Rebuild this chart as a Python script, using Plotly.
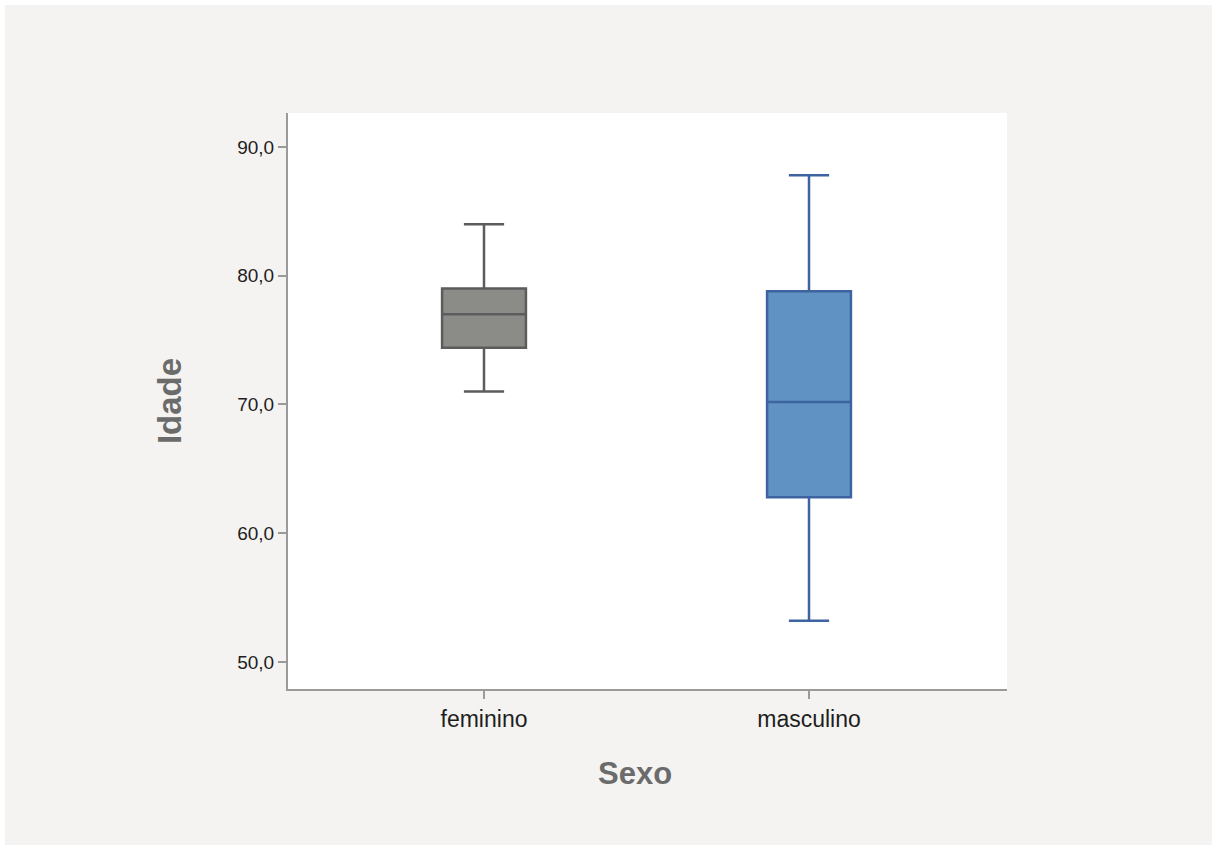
import plotly.graph_objects as go

categories = ["feminino", "masculino"]
lower_whisker = [71.0, 53.2]
q1_vals = [74.4, 62.8]
median_vals = [77.0, 70.2]
q3_vals = [79.0, 78.8]
upper_whisker = [84.0, 87.8]
fill_colors = ["#8b8c88", "#6092c3"]
line_colors = ["#5c5c5c", "#3d63a0"]
y_ticks = [50, 60, 70, 80, 90]
x_title = "Sexo"
y_title = "Idade"

W, H = 1212, 847
L, R, T, B = 288, 1007, 113, 689

fig = go.Figure()
for i, cat in enumerate(categories):
    fig.add_trace(go.Box(
        x=[i], q1=[q1_vals[i]], median=[median_vals[i]], q3=[q3_vals[i]],
        lowerfence=[lower_whisker[i]], upperfence=[upper_whisker[i]],
        width=0.258, whiskerwidth=0.48,
        fillcolor=fill_colors[i],
        line=dict(color=line_colors[i], width=2.5),
        name=cat, showlegend=False, hoverinfo="skip",
    ))

pw = R - L
ph = B - T
px_per = 325.0
x0 = (L - 484) / px_per
x1 = (R - 484) / px_per


def px_x(p):
    return (p - L) / pw


def px_y(p):
    return (B - p) / ph


fig.update_layout(
    width=W, height=H,
    margin=dict(l=L, r=W - R, t=T, b=H - B, pad=0),
    paper_bgcolor="#f4f3f1",
    plot_bgcolor="#ffffff",
    separators=", ",
    font=dict(family="Liberation Sans, Arial, sans-serif", color="#222222", size=16),
    xaxis=dict(
        range=[x0, x1], tickmode="array", tickvals=list(range(len(categories))),
        ticktext=categories, showgrid=False, zeroline=False,
        showline=True, linecolor="#9a9a9a", linewidth=2,
        ticks="outside", ticklen=8, tickwidth=1.5, tickcolor="#9a9a9a",
        tickfont=dict(size=23, color="#1e1e1e"),
    ),
    yaxis=dict(
        range=[47.9, 92.64], tickmode="array", tickvals=y_ticks,
        tickformat=".1f", showgrid=False, zeroline=False,
        showline=True, linecolor="#9a9a9a", linewidth=2,
        ticks="outside", ticklen=8, tickwidth=1.5, tickcolor="#9a9a9a",
        tickfont=dict(size=19, color="#1e1e1e"),
        title=dict(text="<b>" + y_title + "</b>", font=dict(size=33, color="#6b6b6b"), standoff=46),
    ),
)

fig.add_annotation(
    text="<b>" + x_title + "</b>", xref="paper", yref="paper",
    x=px_x(635), y=px_y(773), xanchor="center", yanchor="middle",
    showarrow=False, font=dict(size=31, color="#6b6b6b"),
)

# white frame along the top, left and bottom edges of the page
fig.add_shape(type="rect", xref="paper", yref="paper",
              x0=px_x(0), x1=px_x(W), y0=px_y(0), y1=px_y(5),
              fillcolor="white", line=dict(width=0), layer="above")
fig.add_shape(type="rect", xref="paper", yref="paper",
              x0=px_x(0), x1=px_x(5), y0=px_y(0), y1=px_y(H),
              fillcolor="white", line=dict(width=0), layer="above")
fig.add_shape(type="rect", xref="paper", yref="paper",
              x0=px_x(0), x1=px_x(W), y0=px_y(H - 2), y1=px_y(H),
              fillcolor="white", line=dict(width=0), layer="above")

fig.write_html(
    "out.html",
    config={"displayModeBar": False},
    post_script="document.body.style.margin='0';document.body.style.overflow='hidden';",
)
